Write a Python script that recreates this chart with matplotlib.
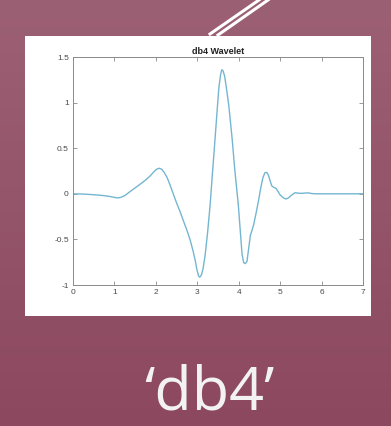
import numpy as np
import matplotlib
matplotlib.use("Agg")
import matplotlib.pyplot as plt
from matplotlib.lines import Line2D
from matplotlib.patches import Rectangle

# Wavelet curve
t = [0.0, 0.25, 0.5, 0.75, 0.9, 1.0, 1.08, 1.16, 1.25, 1.38, 1.5, 1.62, 1.75,
     1.86, 1.95, 2.02, 2.08, 2.14, 2.2, 2.27, 2.34, 2.42, 2.5, 2.58, 2.66,
     2.75, 2.83, 2.9, 2.95, 2.99, 3.03, 3.06, 3.1, 3.14, 3.19, 3.25, 3.31,
     3.37, 3.43, 3.48, 3.52, 3.56, 3.59, 3.62, 3.66, 3.7, 3.76, 3.84, 3.91,
     3.99, 4.04, 4.08, 4.12, 4.16, 4.2, 4.24, 4.28, 4.32, 4.36, 4.42, 4.48,
     4.53, 4.58, 4.63, 4.68, 4.72, 4.76, 4.80, 4.85, 4.9, 4.95, 5.0, 5.08,
     5.14, 5.2, 5.28, 5.36, 5.45, 5.52, 5.6, 5.68, 5.76, 5.84, 6.2, 6.6, 7.0]
psi = [0.0, -0.003, -0.01, -0.02, -0.03, -0.04, -0.045, -0.038, -0.02, 0.025,
       0.065, 0.105, 0.15, 0.195, 0.24, 0.27, 0.28, 0.27, 0.235, 0.18, 0.10,
       0.0, -0.10, -0.19, -0.29, -0.40, -0.51, -0.63, -0.73, -0.83, -0.90,
       -0.915, -0.89, -0.82, -0.67, -0.42, -0.12, 0.25, 0.61, 0.92, 1.16,
       1.30, 1.36, 1.35, 1.29, 1.17, 0.97, 0.61, 0.24, -0.12, -0.42, -0.66,
       -0.755, -0.765, -0.74, -0.6, -0.46, -0.4, -0.34, -0.21, -0.07, 0.06,
       0.17, 0.23, 0.235, 0.2, 0.14, 0.085, 0.07, 0.06, 0.025, -0.013, -0.045,
       -0.057, -0.045, -0.013, 0.012, 0.006, 0.005, 0.008, 0.01, 0.003, 0.0,
       0.0, 0.0, 0.0]

xticks = [0, 1, 2, 3, 4, 5, 6, 7]
yticks = [-1, -0.5, 0, 0.5, 1, 1.5]
yticklabels = ["-1", "-0.5", "0", "0.5", "1", "1.5"]
title = "db4 Wavelet"
caption = "\u2018db4\u2019"

W, H = 391, 426
fig = plt.figure(figsize=(W / 100, H / 100), dpi=100)

# background gradient
bg = fig.add_axes([0, 0, 1, 1])
bg.set_axis_off()
top = np.array([156, 96, 116]) / 255
bot = np.array([140, 72, 95]) / 255
g = np.linspace(0, 1, 256)[:, None, None]
grad = top * (1 - g) + bot * g
grad = np.repeat(grad, 2, axis=1)
bg.imshow(grad, aspect="auto", extent=[0, 1, 0, 1], origin="upper")
bg.set_xlim(0, 1)
bg.set_ylim(0, 1)

def fx(px):
    return px / W

def fy(py):
    return 1 - py / H

# white panel
bg.add_patch(Rectangle((fx(25), fy(316)), fx(371) - fx(25), fy(36) - fy(316),
                       facecolor="white", edgecolor="none", transform=bg.transAxes))
# double diagonal lines
bg.add_line(Line2D([fx(210), fx(259)], [fy(34), fy(0)], color="white", lw=2.2,
                   transform=bg.transAxes))
bg.add_line(Line2D([fx(218), fx(268)], [fy(35), fy(0)], color="white", lw=2.2,
                   transform=bg.transAxes))

# plot axes
ax = fig.add_axes([fx(73), fy(285), fx(363) - fx(73), fy(57) - fy(285)])
ax.plot(t, psi, color="#74b6d1", lw=1.0, solid_joinstyle="round")
ax.set_xlim(0, 7)
ax.set_ylim(-1, 1.5)
ax.set_xticks(xticks)
ax.set_yticks(yticks)
ax.set_yticklabels(yticklabels)
ax.tick_params(direction="in", length=3, width=0.6, colors="#888888",
               labelcolor="#4a4a4a", labelsize=6, top=True, right=True,
               labeltop=False, labelright=False, pad=3)
for s in ax.spines.values():
    s.set_color("#8a8a8a")
    s.set_linewidth(0.7)
for lab in ax.get_xticklabels() + ax.get_yticklabels():
    lab.set_family("Liberation Sans")
ax.set_title(title, fontsize=6.5, fontweight="bold", family="Liberation Sans",
             color="#222222", pad=2)

fig.text(fx(209), fy(410), caption, ha="center", va="baseline",
         fontsize=44, family="Open Sans", color="#f2f2f2")

fig.savefig("out.png", dpi=100)
